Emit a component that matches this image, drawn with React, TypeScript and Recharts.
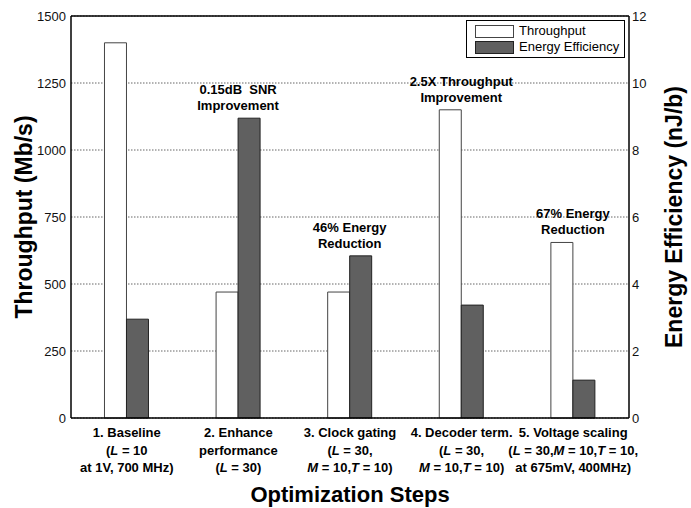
import React from "react";
import { BarChart, Bar, XAxis, YAxis, CartesianGrid, LabelList, ReferenceLine } from "recharts";

const steps = ["1. Baseline", "2. Enhance", "3. Clock gating", "4. Decoder term.", "5. Voltage scaling"];
const stepLine2 = ["(*L* = 10", "performance", "(*L* = 30,", "(*L* = 30,", "(*L* = 30,*M* = 10,*T* = 10,"];
const stepLine3 = ["at 1V, 700 MHz)", "(*L* = 30)", "*M* = 10,*T* = 10)", "*M* = 10,*T* = 10)", "at 675mV, 400MHz)"];

const throughput = [1400, 470, 470, 1150, 655];
const energy = [2.95, 8.95, 4.84, 3.37, 1.13];

const throughputNotes = ["", "", "", "2.5X Throughput|Improvement", "67% Energy|Reduction"];
const energyNotes = ["", "0.15dB\u00a0 SNR|Improvement", "46% Energy|Reduction", "", ""];

const leftTicks = [0, 250, 500, 750, 1000, 1250, 1500];
const rightTicks = [0, 2, 4, 6, 8, 10, 12];

const data = steps.map((step, i) => ({ step, throughput: throughput[i], energy: energy[i] }));

const FONT = "'Liberation Sans', Arial, Helvetica, sans-serif";

// "*L*" marks an italic letter
function richLine(line: string) {
  return line.split("*").map((part, i) => (
    <tspan key={i} fontStyle={i % 2 === 1 ? "italic" : "normal"}>{part}</tspan>
  ));
}

function StepTick({ x, y, payload, index }: any) {
  const i = payload?.index ?? index;
  return (
    <text x={x} y={y} textAnchor="middle" fontFamily={FONT} fontSize={13} fontWeight={700} fill="#000">
      <tspan x={x} dy={19}>{payload.value}</tspan>
      <tspan x={x} dy={17.5}>{richLine(stepLine2[i])}</tspan>
      <tspan x={x} dy={17.5}>{richLine(stepLine3[i])}</tspan>
    </text>
  );
}

function noteLabel(notes: string[], side: "left" | "right") {
  return (props: any) => {
    const { x, y, width, index } = props;
    const note = notes[index];
    if (!note) return null;
    const [a, b] = note.split("|");
    const cx = side === "left" ? x + width : x;
    return (
      <text x={cx} y={y - 8} textAnchor="middle" fontFamily={FONT} fontSize={13} fontWeight={700} fill="#000">
        <tspan x={cx} dy={-16}>{a}</tspan>
        <tspan x={cx} dy={16}>{b}</tspan>
      </text>
    );
  };
}

function LegendBox() {
  const row = (fill: string, stroke: string, label: string) => (
    <div style={{ display: "flex", alignItems: "center", height: 16, whiteSpace: "nowrap" }}>
      <div style={{ width: 37, height: 11, background: fill, border: `1px solid ${stroke}`, marginRight: 5, flexShrink: 0 }} />
      <span>{label}</span>
    </div>
  );
  return (
    <div style={{ position: "absolute", left: 466, top: 20, border: "1px solid #000", background: "#fff", padding: "2px 8px", fontFamily: FONT, fontSize: 13, lineHeight: "16px", color: "#000", boxSizing: "border-box", width: 159, height: 38 }}>
      {row("#fff", "#444", "Throughput")}
      {row("#606060", "#222", "Energy Efficiency")}
    </div>
  );
}

export default function App() {
  return (
    <div style={{ position: "absolute", left: 0, top: 0, width: 691, height: 508, background: "#fff" }}>
      <BarChart width={691} height={508} data={data} margin={{ top: 16, right: 0, left: 0, bottom: 0 }} barGap={0} barCategoryGap="30%">
        <CartesianGrid yAxisId="left" vertical={false} stroke="#666" strokeDasharray="1.5 1.5" />
        <XAxis dataKey="step" height={90} interval={0} tickLine={false} tickSize={0} tickMargin={0} axisLine={{ stroke: "#000", strokeWidth: 1.5 }} tick={<StepTick />} />
        <YAxis yAxisId="left" width={71} domain={[0, 1500]} ticks={leftTicks} tickLine={false} tickSize={0} tickMargin={5}
          axisLine={{ stroke: "#000", strokeWidth: 1.5 }} tick={{ fontFamily: FONT, fontSize: 13, fill: "#111" }} />
        <YAxis yAxisId="right" orientation="right" width={62} domain={[0, 12]} ticks={rightTicks} tickLine={false} tickSize={0} tickMargin={3}
          axisLine={{ stroke: "#000", strokeWidth: 1.5 }} tick={{ fontFamily: FONT, fontSize: 13, fill: "#111", textAnchor: "start" }} />
        <ReferenceLine yAxisId="left" y={1500} stroke="#000" strokeWidth={1.5} />
        <Bar yAxisId="left" dataKey="throughput" name="Throughput" fill="#fff" stroke="#444" strokeWidth={1} isAnimationActive={false}>
          <LabelList dataKey="throughput" content={noteLabel(throughputNotes, "left")} />
        </Bar>
        <Bar yAxisId="right" dataKey="energy" name="Energy Efficiency" fill="#606060" stroke="#222" strokeWidth={1} isAnimationActive={false}>
          <LabelList dataKey="energy" content={noteLabel(energyNotes, "right")} />
        </Bar>
      </BarChart>
      <LegendBox />
      <svg width={691} height={508} style={{ position: "absolute", left: 0, top: 0, pointerEvents: "none" }}>
        <text transform="translate(32,217) rotate(-90)" textAnchor="middle" fontFamily={FONT} fontSize={23} fontWeight={700} fill="#000">Throughput (Mb/s)</text>
        <text transform="translate(682,217) rotate(-90)" textAnchor="middle" fontFamily={FONT} fontSize={23} fontWeight={700} fill="#000">Energy Efficiency (nJ/b)</text>
        <text x={350} y={502} textAnchor="middle" fontFamily={FONT} fontSize={22} fontWeight={700} fill="#000">Optimization Steps</text>
      </svg>
    </div>
  );
}
